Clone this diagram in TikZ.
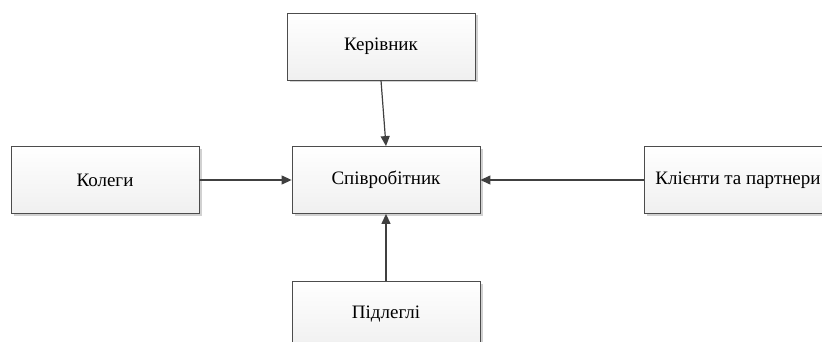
\documentclass[tikz,border=0pt]{standalone}
\usepackage{fontspec}
\setmainfont{Liberation Serif}
\usetikzlibrary{arrows.meta,shadows}

\tikzset{
    rolebox/.style={draw=gray!60!black, line width=0.8pt, top color=white, bottom color=gray!12,
        minimum width=188pt, minimum height=67pt, inner sep=0pt,
        font=\fontsize{19}{22}\selectfont,
        drop shadow={shadow xshift=2.5pt, shadow yshift=-2.5pt, fill=gray!45, opacity=0.8}},
    link/.style={draw=black!75, line width=1.2pt, -{Triangle[length=10pt, width=9pt]}}
}

\begin{document}
\begin{tikzpicture}[x=1pt, y=-1pt]
    \useasboundingbox (0,0) rectangle (822,342);
    \clip (0,0) rectangle (822,342);
    \node[rolebox] (boss) at (381,46.5) {Керівник};
    \node[rolebox] (colleagues) at (105,180) {Колеги};
    \node[rolebox] (employee) at (386,180) {Співробітник};
    \node[rolebox] (clients) at (738,180) {Клієнти та партнери};
    \node[rolebox] (subordinates) at (386,314.5) {Підлеглі};
    \draw[link] (boss.south) -- (employee.north);
    \draw[link] (colleagues.east) -- (employee.west);
    \draw[link] (clients.west) -- (employee.east);
    \draw[link] (subordinates.north) -- (employee.south);
\end{tikzpicture}
\end{document}
